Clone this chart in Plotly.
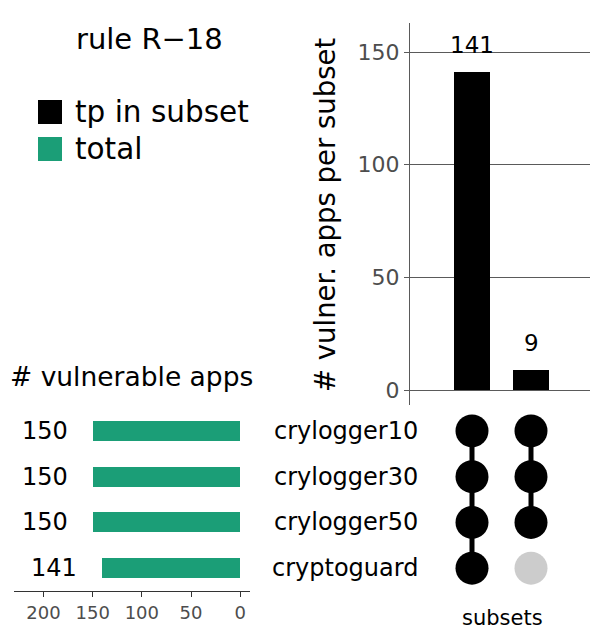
import plotly.graph_objects as go

# data
set_names = ["crylogger10", "crylogger30", "crylogger50", "cryptoguard"]
set_totals = [150, 150, 150, 141]
subset_counts = [141, 9]
# membership matrix: one list per subset, 1 = set is part of the subset
membership = [[1, 1, 1, 1], [1, 1, 1, 0]]

# the page body adds an 8px margin, so the figure is 8px smaller than the window
OFF = 8
W, H = 598 - OFF, 642 - OFF
GREEN = "#1b9e77"
FONT = "DejaVu Sans, Liberation Sans, sans-serif"


def px_x(p):
    return (p - OFF) / W


def px_y(p):
    return 1 - (p - OFF) / H


rows = list(range(len(set_names)))
cols = list(range(len(subset_counts)))

fig = go.Figure()

# top: intersection sizes
fig.add_trace(go.Bar(x=cols, y=subset_counts, width=0.61, marker=dict(color="black", line=dict(width=0)),
                     xaxis="x", yaxis="y", showlegend=False))

# left: set sizes
fig.add_trace(go.Bar(x=set_totals, y=rows, orientation="h", width=0.44, marker=dict(color=GREEN, line=dict(width=0)),
                     xaxis="x3", yaxis="y3", showlegend=False))

# matrix dots and connectors
for c, mem in zip(cols, membership):
    on = [r for r, m in zip(rows, mem) if m]
    fig.add_trace(go.Scatter(x=[c] * len(on), y=on, mode="lines", line=dict(color="black", width=5),
                             xaxis="x2", yaxis="y2", showlegend=False, hoverinfo="skip"))
    fig.add_trace(go.Scatter(x=[c] * len(rows), y=rows, mode="markers",
                             marker=dict(size=33, color=["black" if m else "#cccccc" for m in mem], line=dict(width=0)),
                             xaxis="x2", yaxis="y2", showlegend=False, cliponaxis=False))

ann = []
for c, v in zip(cols, subset_counts):
    ann.append(dict(x=c, y=v, xref="x", yref="y", text=str(v), showarrow=False, xanchor="center",
                    yanchor="bottom", yshift=12, font=dict(size=23, color="black")))
for r, v in zip(rows, set_totals):
    ann.append(dict(x=v + 23, y=r, xref="x3", yref="y3", text=str(v), showarrow=False, xanchor="right",
                    yanchor="middle", font=dict(size=24, color="black")))
for r, name in zip(rows, set_names):
    ann.append(dict(x=px_x(420), y=r, xref="paper", yref="y2", text=name, showarrow=False, xanchor="right",
                    yanchor="middle", font=dict(size=24, color="black")))

labels = [
    dict(x=px_x(149), y=px_y(39), text="rule R\u221218", font=dict(size=29)),
    dict(x=px_x(73), y=px_y(112), text="tp in subset", xanchor="left", font=dict(size=29.5)),
    dict(x=px_x(73), y=px_y(149), text="total", xanchor="left", font=dict(size=29.5)),
    dict(x=px_x(131), y=px_y(376), text="# vulnerable apps", font=dict(size=26.5)),
    dict(x=px_x(325), y=px_y(215), text="# vulner. apps per subset", textangle=-90, font=dict(size=27.5)),
    dict(x=px_x(502), y=px_y(618), text="subsets", font=dict(size=21)),
]
for a in labels:
    a.setdefault("xanchor", "center")
    a.update(xref="paper", yref="paper", showarrow=False, yanchor="middle")
    a["font"]["color"] = "black"
ann += labels

# legend keys
shapes = [
    dict(type="rect", xref="paper", yref="paper", x0=px_x(38), x1=px_x(62), y0=px_y(124), y1=px_y(100),
         fillcolor="black", line=dict(width=0)),
    dict(type="rect", xref="paper", yref="paper", x0=px_x(38), x1=px_x(62), y0=px_y(161), y1=px_y(137),
         fillcolor=GREEN, line=dict(width=0)),
]

x_lo = -(472 - 410) / 59
x_hi = (598 - 472) / 59

fig.update_layout(
    width=W, height=H,
    margin=dict(l=0, r=0, t=0, b=0),
    paper_bgcolor="white", plot_bgcolor="white",
    font=dict(family=FONT, color="black"),
    bargap=0,
    xaxis=dict(domain=[px_x(410), 1], range=[x_lo, x_hi], visible=False),
    yaxis=dict(domain=[px_y(405), px_y(23)], range=[-6.66, 162.9], anchor="x",
               tickvals=[0, 50, 100, 150], showgrid=True, gridcolor="#5a5a5a", gridwidth=1,
               zeroline=True, zerolinecolor="#5a5a5a", zerolinewidth=1,
               showline=True, linecolor="#5a5a5a", linewidth=1,
               ticks="outside", ticklen=5, tickcolor="#5a5a5a",
               tickfont=dict(size=22, color="#4d4d4d")),
    xaxis2=dict(domain=[px_x(410), 1], range=[x_lo, x_hi], visible=False, anchor="y2"),
    yaxis2=dict(domain=[px_y(591), px_y(408)], range=[3.5, -0.5], visible=False, anchor="x2"),
    xaxis3=dict(domain=[px_x(14), px_x(250)], range=[230, -10], anchor="y3",
                tickvals=[0, 50, 100, 150, 200], showgrid=False, zeroline=False,
                showline=True, linecolor="#333333", linewidth=1,
                ticks="outside", ticklen=5, tickcolor="#333333",
                tickfont=dict(size=18, color="#4d4d4d")),
    yaxis3=dict(domain=[px_y(591), px_y(408)], range=[3.5, -0.5], visible=False, anchor="x3"),
    annotations=ann,
    shapes=shapes,
)

fig.write_html("out.html")
